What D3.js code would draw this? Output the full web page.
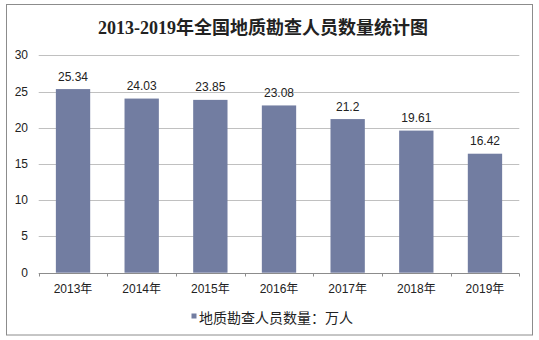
<!DOCTYPE html>
<html>
<head>
<meta charset="utf-8">
<script src="https://cdn.jsdelivr.net/npm/d3@7"></script>
<style>
  html, body { margin: 0; padding: 0; background: #fff; }
  svg { display: block; }
</style>
</head>
<body>
<div id="chart"></div>
<script>
const titleText = "2013-2019年全国地质勘查人员数量统计图";
const categories = ["2013年", "2014年", "2015年", "2016年", "2017年", "2018年", "2019年"];
const values = [25.34, 24.03, 23.85, 23.08, 21.2, 19.61, 16.42];
const valueLabels = ["25.34", "24.03", "23.85", "23.08", "21.2", "19.61", "16.42"];
const yTicks = [0, 5, 10, 15, 20, 25, 30];
const seriesName = "地质勘查人员数量：万人";

const W = 539, H = 340;
const plot = { left: 38.7, right: 519.3, top: 55.3, bottom: 272.7 };
const barColor = "#727DA1";
const sansFont = "'Liberation Sans', Arial, 'Noto Sans CJK SC', sans-serif";

const svg = d3.select("#chart").append("svg")
  .attr("width", W).attr("height", H);

svg.append("rect").attr("x", 0).attr("y", 0).attr("width", W).attr("height", H).attr("fill", "#fff");

// outer border
svg.append("rect")
  .attr("x", 6.5).attr("y", 4.5)
  .attr("width", 526).attr("height", 330.5)
  .attr("fill", "none").attr("stroke", "#8c8c8c").attr("stroke-width", 1);

// title
svg.append("text")
  .attr("x", 263).attr("y", 28)
  .attr("text-anchor", "middle").attr("dominant-baseline", "central")
  .style("font-family", "'Liberation Serif', 'Noto Sans CJK SC', serif")
  .style("font-weight", "bold").style("font-size", "18px")
  .attr("fill", "#222")
  .text(titleText);

const x = d3.scaleBand().domain(categories).range([plot.left, plot.right]).paddingInner(0.5).paddingOuter(0.25);
const y = d3.scaleLinear().domain([0, 30]).range([plot.bottom, plot.top]);

// gridlines
svg.append("g").selectAll("line").data(yTicks.filter(d => d > 0)).join("line")
  .attr("x1", plot.left).attr("x2", plot.right)
  .attr("y1", d => Math.round(y(d)) + 0.5).attr("y2", d => Math.round(y(d)) + 0.5)
  .attr("stroke", "#c0c0c0").attr("stroke-width", 1);

// y labels
svg.append("g").selectAll("text").data(yTicks).join("text")
  .attr("x", 28).attr("y", d => y(d))
  .attr("text-anchor", "end").attr("dominant-baseline", "central")
  .style("font-family", sansFont).style("font-size", "12px")
  .attr("fill", "#222")
  .text(d => d);

// bars
svg.append("g").selectAll("rect").data(values).join("rect")
  .attr("x", (d, i) => x(categories[i]))
  .attr("width", x.bandwidth())
  .attr("y", d => y(d))
  .attr("height", d => y(0) - y(d))
  .attr("fill", barColor);

// value labels
svg.append("g").selectAll("text").data(values).join("text")
  .attr("x", (d, i) => x(categories[i]) + x.bandwidth() / 2)
  .attr("y", d => y(d) - 8.5)
  .attr("text-anchor", "middle")
  .style("font-family", sansFont).style("font-size", "12px")
  .attr("fill", "#222")
  .text((d, i) => valueLabels[i]);

// x axis
const gx = svg.append("g").attr("transform", `translate(0,${Math.round(plot.bottom) + 0.5})`);
gx.append("line").attr("x1", plot.left).attr("x2", plot.right).attr("y1", 0).attr("y2", 0)
  .attr("stroke", "#8c8c8c");
const boundaries = d3.range(categories.length + 1).map(i => plot.left + i * (plot.right - plot.left) / categories.length);
gx.selectAll("line.tk").data(boundaries).join("line").attr("class", "tk")
  .attr("x1", d => Math.round(d) + 0.5).attr("x2", d => Math.round(d) + 0.5)
  .attr("y1", 0).attr("y2", 3).attr("stroke", "#8c8c8c");
gx.selectAll("text").data(categories).join("text")
  .attr("x", d => x(d) + x.bandwidth() / 2)
  .attr("y", 15)
  .attr("text-anchor", "middle").attr("dominant-baseline", "central")
  .style("font-family", sansFont).style("font-size", "12px")
  .attr("fill", "#222")
  .text(d => d);

// legend
const lg = svg.append("g");
lg.append("rect").attr("x", 191.5).attr("y", 313.5).attr("width", 5).attr("height", 5).attr("fill", barColor);
lg.append("text").attr("x", 199).attr("y", 316.5)
  .attr("dominant-baseline", "central")
  .style("font-family", "'Noto Sans CJK SC', sans-serif").style("font-size", "14px")
  .attr("fill", "#222")
  .text(seriesName);
</script>
</body>
</html>
